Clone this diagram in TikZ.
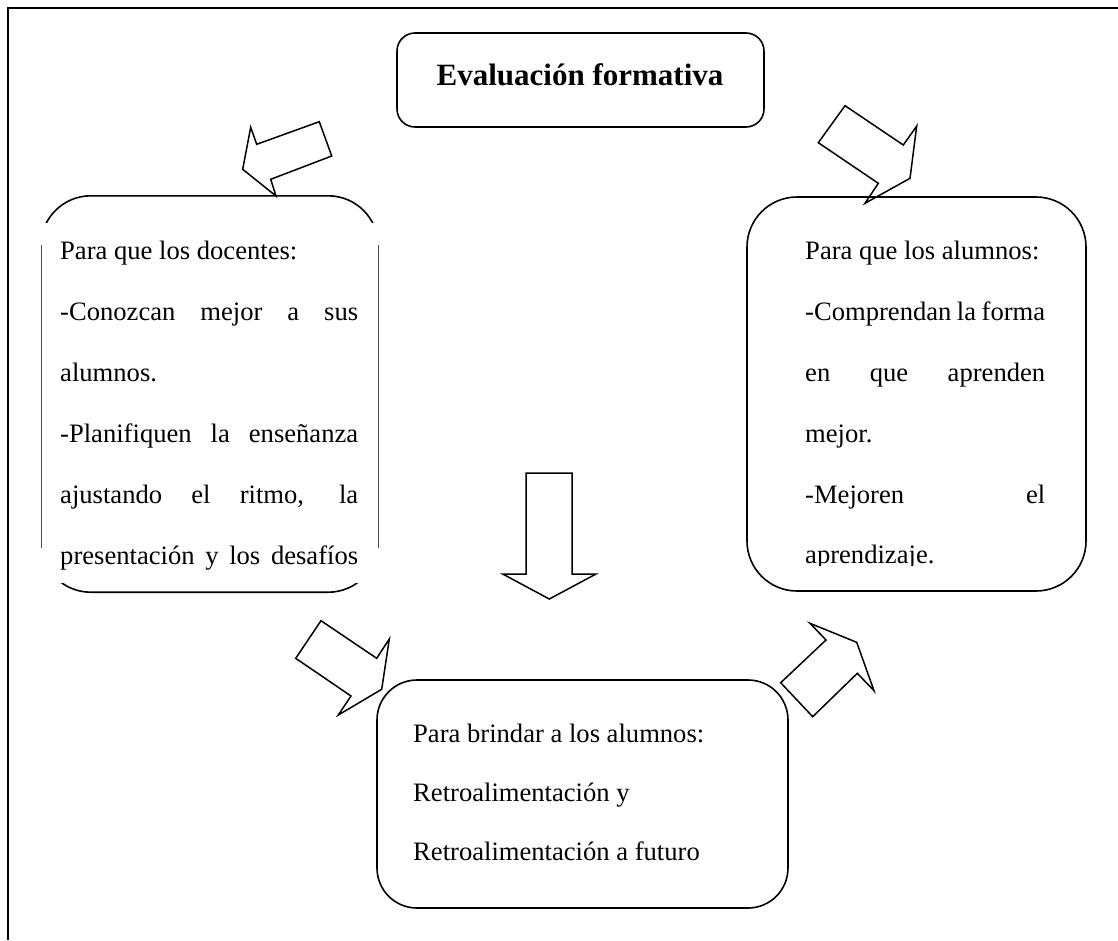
\documentclass[tikz,border=0pt]{standalone}
\usepackage{fontspec}
\setmainfont{Liberation Serif}
\begin{document}
\begin{tikzpicture}[x=1pt,y=-1pt,
  frame/.style={line width=1.3pt},
  box/.style={draw, line width=1.6pt, rounded corners=#1, inner sep=0pt},
  outline/.style={line width=1.6pt, rounded corners=50pt},
  side/.style={line width=0.6pt, black!70},
  blockarrow/.style={draw, line width=1.5pt, line join=miter},
  body/.style={inner sep=0pt, anchor=base west, font=\fontsize{26.6}{32}\selectfont},
  heading/.style={inner sep=0pt, anchor=base, font=\fontsize{31}{36}\selectfont\bfseries}]
\useasboundingbox (0,0) rectangle (1118,940);

% page frame (only top and left edges are visible)
\draw[frame] (1118,8) -- (8,8) -- (8,940);

% title
\node[box=18pt, minimum width=367pt, minimum height=94pt] (title) at (580.5,80) {};
\node[heading] (titletext) at (580,85) {Evaluación formativa};

% left box: teachers (outline partly hidden by its text frame)
\node[inner sep=0pt, minimum width=337pt, minimum height=396pt] (teach) at (209.5,394) {};
\begin{scope}
  \clip (0,185) rectangle (420,222);
  \draw[outline] (teach.north west) rectangle (teach.south east);
\end{scope}
\begin{scope}
  \clip (0,583) rectangle (420,605);
  \draw[outline] (teach.north west) rectangle (teach.south east);
\end{scope}
\draw[side] (41,245) -- (41,548);
\draw[side] (378,245) -- (378,548);
\node[body] (t1) at (60,259) {Para que los docentes:};
\node[body] (t2) at (60,320) {\makebox[298pt][s]{-Conozcan mejor a sus}};
\node[body] (t3) at (60,381) {alumnos.};
\node[body] (t4) at (60,442) {\makebox[298pt][s]{-Planifiquen la enseñanza}};
\node[body] (t5) at (60,503) {\makebox[298pt][s]{ajustando el ritmo, la}};
\node[body] (t6) at (60,564) {\makebox[298pt][s]{presentación y los desafíos}};

% right box: students
\node[box=50pt, minimum width=339pt, minimum height=394pt] (learn) at (916.5,394) {};
\node[body] (s1) at (805,259) {Para que los alumnos:};
\node[body] (s2) at (805,320) {\makebox[240pt][s]{-Comprendan la forma}};
\node[body] (s3) at (805,381) {\makebox[240pt][s]{en que aprenden}};
\node[body] (s4) at (805,442) {mejor.};
\node[body] (s5) at (805,503) {\makebox[240pt][s]{-Mejoren el}};
\begin{scope}
  \clip (790,520) rectangle (1060,565);
  \node[body] (s6) at (805,563) {aprendizaje.};
\end{scope}

% bottom box: feedback
\node[box=40pt, minimum width=411pt, minimum height=228pt] (feed) at (582.5,794) {};
\node[body] (f1) at (413,742) {Para brindar a los alumnos:};
\node[body] (f2) at (413,801) {Retroalimentación y};
\node[body] (f3) at (413,860) {Retroalimentación a futuro};

% block arrows
\draw[blockarrow] (250.7,127.3) -- (242.7,169.3) -- (276,196) -- (270.7,179.3)
  -- (331.7,156) -- (319.3,121.7) -- (256.7,144.3) -- cycle;
\draw[blockarrow] (845,105.7) -- (903.3,145) -- (916.7,126) -- (910,178.3)
  -- (865,203.3) -- (878.3,183.3) -- (818.3,142.7) -- cycle;
\draw[blockarrow] (526,473) -- (572,473) -- (572,574) -- (596,574)
  -- (549.3,599) -- (502.7,574) -- (526,574) -- cycle;
\draw[blockarrow] (321,620.7) -- (376.7,658.3) -- (389.3,639) -- (381.7,689.3)
  -- (338.3,715) -- (351,696) -- (295.7,658.3) -- cycle;
\draw[blockarrow] (810,623.3) -- (856.7,642.3) -- (874,690.7) -- (857.3,673.3)
  -- (812.7,716.7) -- (780.7,682.7) -- (826,640) -- cycle;
\end{tikzpicture}
\end{document}
